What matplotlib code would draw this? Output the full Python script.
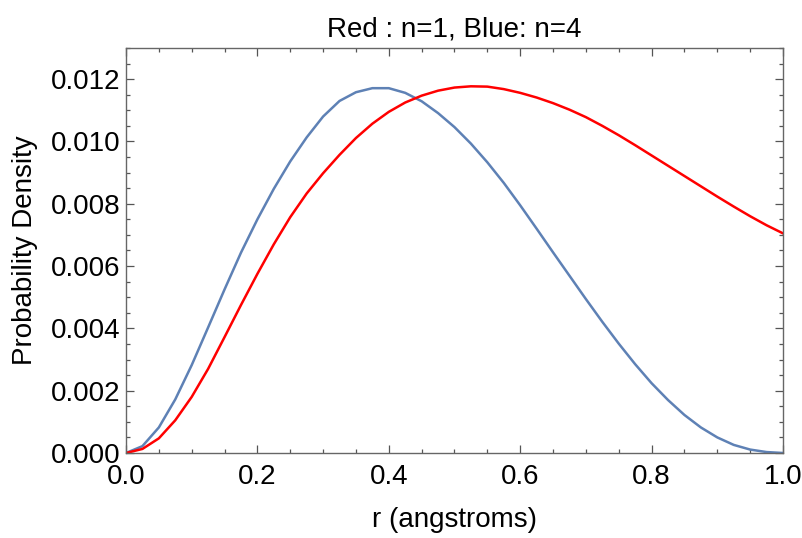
import numpy as np
import matplotlib
matplotlib.use("Agg")
import matplotlib.pyplot as plt
from matplotlib.ticker import MultipleLocator, FormatStrFormatter

plt.rcParams['font.family'] = ['Liberation Sans', 'DejaVu Sans']

# radius values (angstroms)
r = [0.000, 0.025, 0.050, 0.075, 0.100, 0.125, 0.150, 0.175, 0.200, 0.225,
     0.250, 0.275, 0.300, 0.325, 0.350, 0.375, 0.400, 0.425, 0.450, 0.475,
     0.500, 0.525, 0.550, 0.575, 0.600, 0.625, 0.650, 0.675, 0.700, 0.725,
     0.750, 0.775, 0.800, 0.825, 0.850, 0.875, 0.900, 0.925, 0.950, 0.975,
     1.000]

# probability density, in units of 1e-3
red_n1 = [0.00, 0.13, 0.47, 1.05, 1.80, 2.70, 3.72, 4.75, 5.75, 6.70,
          7.57, 8.33, 8.98, 9.57, 10.11, 10.57, 10.95, 11.25, 11.47, 11.63,
          11.73, 11.77, 11.76, 11.68, 11.56, 11.41, 11.23, 11.02, 10.78, 10.50,
          10.20, 9.88, 9.55, 9.22, 8.89, 8.56, 8.23, 7.91, 7.60, 7.31,
          7.05]
blue_n4 = [0.00, 0.22, 0.82, 1.72, 2.82, 4.03, 5.25, 6.43, 7.50, 8.48,
           9.36, 10.13, 10.80, 11.30, 11.58, 11.71, 11.71, 11.56, 11.29, 10.91,
           10.46, 9.93, 9.33, 8.67, 7.95, 7.20, 6.44, 5.69, 4.94, 4.21,
           3.51, 2.85, 2.24, 1.70, 1.22, 0.82, 0.50, 0.26, 0.11, 0.03,
           0.00]

title = "Red : n=1, Blue: n=4"
xlabel = "r (angstroms)"
ylabel = "Probability Density"

scale = 1e-3
red_vals = np.array(red_n1) * scale
blue_vals = np.array(blue_n4) * scale

fig = plt.figure(figsize=(8.03, 5.38), dpi=100)
ax = fig.add_axes([0.1569, 0.158, 0.9751 - 0.1569, 0.9108 - 0.158])

ax.plot(r, blue_vals, color='#5E81B5', lw=1.8, solid_joinstyle='round')
ax.plot(r, red_vals, color='#FF0000', lw=1.8, solid_joinstyle='round')

ax.set_xlim(0, 1.0)
ax.set_ylim(0, 0.013)

ax.xaxis.set_major_locator(MultipleLocator(0.2))
ax.xaxis.set_minor_locator(MultipleLocator(0.05))
ax.yaxis.set_major_locator(MultipleLocator(0.002))
ax.yaxis.set_minor_locator(MultipleLocator(0.0005))
ax.xaxis.set_major_formatter(FormatStrFormatter('%.1f'))
ax.yaxis.set_major_formatter(FormatStrFormatter('%.3f'))

ax.tick_params(which='both', direction='in', top=True, right=True,
               color='#555555', labelsize=20, labelcolor='black', width=0.9)
ax.tick_params(which='major', length=5.5)
ax.tick_params(which='minor', length=3)
ax.tick_params(axis='y', which='major', pad=4)
ax.tick_params(axis='x', which='major', pad=8)

for s in ax.spines.values():
    s.set_color('#666666')
    s.set_linewidth(1.0)

ax.set_title(title, fontsize=20, pad=8)
ax.set_xlabel(xlabel, fontsize=20, labelpad=12)
ax.set_ylabel(ylabel, fontsize=20, labelpad=9)

fig.savefig('out.png', dpi=100)
